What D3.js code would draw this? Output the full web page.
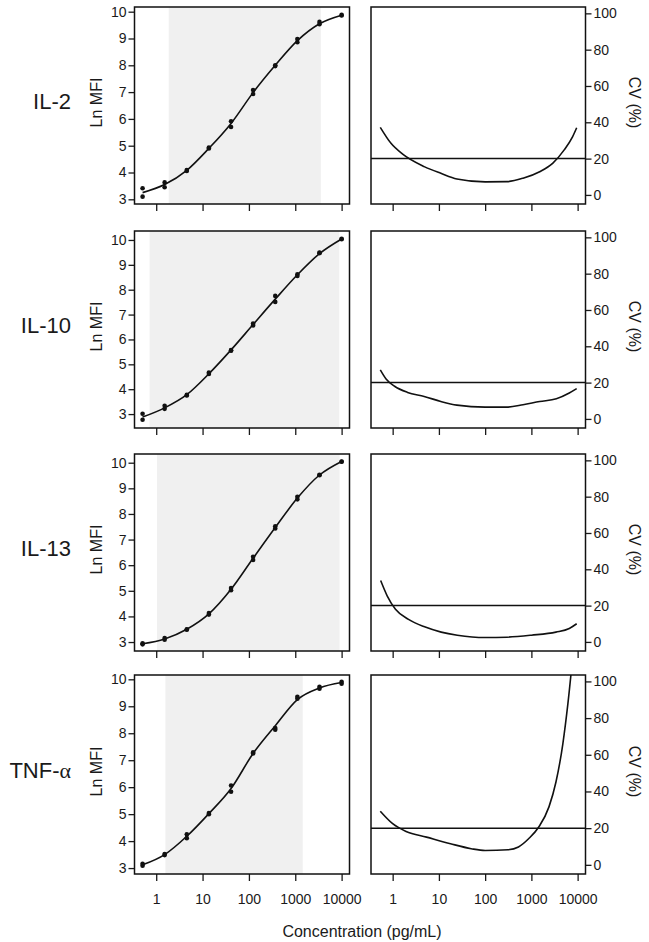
<!DOCTYPE html>
<html>
<head>
<meta charset="utf-8">
<title>Standard curves and CV</title>
<script src="https://d3js.org/d3.v7.min.js"></script>
<style>
body { margin: 0; background: #fff; }
text { font-family: "Liberation Sans", Arial, sans-serif; fill: #1a1a1a; }
.axis text { font-size: 14px; }
.axis line { stroke: #1a1a1a; stroke-width: 1.3; }
</style>
</head>
<body>
<svg width="649" height="942"></svg>
<script>
// standards: 3-fold dilutions from 10000 pg/mL
var conc = [0.508, 1.52, 4.57, 13.7, 41.2, 123, 370, 1111, 3333, 10000];

var analytes = ["IL-2", "IL-10", "IL-13", "TNF-α"];

// Ln MFI, two replicates + fitted curve
var il2Rep1 = [3.41, 3.63, 4.09, 4.93, 5.91, 7.08, 8.00, 8.98, 9.62, 9.88];
var il2Rep2 = [3.10, 3.45, 4.06, 4.90, 5.70, 6.93, 7.97, 8.86, 9.53, 9.86];
var il2Fit  = [3.25, 3.55, 4.08, 4.90, 5.83, 6.98, 8.00, 8.92, 9.55, 9.87];

var il10Rep1 = [3.01, 3.33, 3.77, 4.67, 5.57, 6.64, 7.75, 8.62, 9.49, 10.05];
var il10Rep2 = [2.77, 3.21, 3.75, 4.61, 5.55, 6.56, 7.51, 8.55, 9.47, 10.03];
var il10Fit  = [2.88, 3.25, 3.78, 4.62, 5.58, 6.60, 7.62, 8.60, 9.45, 10.04];

var il13Rep1 = [2.95, 3.16, 3.50, 4.13, 5.11, 6.33, 7.52, 8.67, 9.53, 10.05];
var il13Rep2 = [2.91, 3.09, 3.48, 4.07, 5.02, 6.20, 7.43, 8.57, 9.51, 10.04];
var il13Fit  = [2.93, 3.12, 3.50, 4.10, 5.06, 6.27, 7.47, 8.62, 9.52, 10.05];

var tnfRep1 = [3.16, 3.52, 4.25, 5.04, 6.06, 7.29, 8.19, 9.35, 9.72, 9.91];
var tnfRep2 = [3.09, 3.48, 4.11, 5.00, 5.83, 7.25, 8.13, 9.28, 9.65, 9.84];
var tnfFit  = [3.12, 3.50, 4.18, 5.02, 5.95, 7.25, 8.28, 9.25, 9.68, 9.88];

// working range (shaded), pg/mL
var rangeLow  = [1.86, 0.72, 1.04, 1.58];
var rangeHigh = [3560, 8900, 9060, 1450];

// CV profiles
var il2CvConc = [0.54, 0.92, 1.62, 4.8, 11, 24.5, 100, 290, 660, 1510, 2880, 5130, 7760, 9550];
var il2Cv     = [37.2, 28.4, 22.6, 15.6, 11.9, 8.8, 7.2, 7.3, 9.2, 12.8, 17.4, 24.8, 32, 37];

var il10CvConc = [0.54, 0.72, 1.1, 2.1, 4.8, 11, 24.5, 100, 290, 660, 1510, 3470, 6600, 9550];
var il10Cv     = [27, 22, 18, 14.6, 12.4, 9.6, 7.6, 6.5, 6.5, 7.8, 9.6, 11.1, 14.3, 16.7];

var il13CvConc = [0.55, 0.76, 1.15, 2.2, 4.9, 11.2, 25, 100, 295, 1000, 3390, 6600, 9550];
var il13Cv     = [33.8, 25.4, 18, 12.4, 8.3, 5.4, 3.7, 2.4, 2.6, 3.7, 5.4, 7.4, 10];

var tnfCvConc = [0.54, 1, 1.95, 5.4, 17.8, 50, 100, 316, 525, 870, 1445, 2400, 3390, 4790, 6170, 7940];
var tnfCv     = [29.2, 22.4, 18.2, 15.1, 11.5, 8.8, 7.8, 8.2, 9.7, 14.2, 20.6, 31.6, 45, 66, 88, 115];

var cvLimit = 20;

var xTicks = [1, 10, 100, 1000, 10000];
var lnTicks = [3, 4, 5, 6, 7, 8, 9, 10];
var cvTicks = [0, 20, 40, 60, 80, 100];
var lnDomains = [[2.825, 10.175], [2.44, 10.36], [2.65, 10.34], [2.78, 10.16]];
var cvDomain = [-5, 103.5];
var xDomain = [0.34, 14800];

var reps1 = [il2Rep1, il10Rep1, il13Rep1, tnfRep1];
var reps2 = [il2Rep2, il10Rep2, il13Rep2, tnfRep2];
var fits = [il2Fit, il10Fit, il13Fit, tnfFit];
var cvConcs = [il2CvConc, il10CvConc, il13CvConc, tnfCvConc];
var cvs = [il2Cv, il10Cv, il13Cv, tnfCv];

// layout
var svg = d3.select("svg");
var leftX = [134.5, 349.5], rightX = [371, 585.5];
var rowTop = [7, 231, 454, 675], rowBot = [204, 428, 651, 874];

var xL = d3.scaleLog().domain(xDomain).range(leftX);
var xR = d3.scaleLog().domain(xDomain).range(rightX);

svg.append("defs").selectAll("clipPath")
  .data(rowTop).enter().append("clipPath")
  .attr("id", function(d, i){ return "clipR" + i; })
  .append("rect")
  .attr("x", rightX[0]).attr("y", function(d){ return d; })
  .attr("width", rightX[1] - rightX[0])
  .attr("height", function(d, i){ return rowBot[i] - d; });

analytes.forEach(function(name, i) {
  var top = rowTop[i], bot = rowBot[i], mid = (top + bot) / 2;
  var y = d3.scaleLinear().domain(lnDomains[i]).range([bot, top]);
  var yc = d3.scaleLinear().domain(cvDomain).range([bot, top]);
  var last = i == analytes.length - 1;

  // --- left: standard curve ---
  svg.append("rect")
    .attr("x", xL(rangeLow[i])).attr("y", top)
    .attr("width", xL(rangeHigh[i]) - xL(rangeLow[i]))
    .attr("height", bot - top)
    .style("fill", "#f0f0f0");

  var fitLine = d3.line()
    .x(function(d, j){ return xL(conc[j]); })
    .y(function(d){ return y(d); })
    .curve(d3.curveMonotoneX);
  svg.append("path").datum(fits[i])
    .attr("d", fitLine)
    .style("fill", "none").style("stroke", "#111").style("stroke-width", 1.6);

  [reps1[i], reps2[i]].forEach(function(rep) {
    svg.selectAll(null).data(rep).enter().append("circle")
      .attr("cx", function(d, j){ return xL(conc[j]); })
      .attr("cy", function(d){ return y(d); })
      .attr("r", 2.3)
      .style("fill", "#111");
  });

  svg.append("g").attr("class", "axis")
    .attr("transform", "translate(" + leftX[0] + ",0)")
    .call(d3.axisLeft(y).tickValues(lnTicks).tickSize(6).tickPadding(2))
    .call(function(g){ g.select(".domain").remove(); });

  svg.append("g").attr("class", "axis")
    .attr("transform", "translate(0," + bot + ")")
    .call(d3.axisBottom(xL).tickValues(xTicks).tickSize(7).tickPadding(13)
      .tickFormat(function(d){ return last ? d3.format("d")(d) : ""; }))
    .call(function(g){ g.select(".domain").remove(); });

  svg.append("rect")
    .attr("x", leftX[0]).attr("y", top)
    .attr("width", leftX[1] - leftX[0]).attr("height", bot - top)
    .style("fill", "none").style("stroke", "#111").style("stroke-width", 1.5);

  svg.append("text")
    .attr("transform", "translate(102," + (mid - 3) + ") rotate(-90)")
    .attr("text-anchor", "middle")
    .style("font-size", "16px")
    .text("Ln MFI");

  var lab = svg.append("text")
    .attr("x", 71).attr("y", mid + 3)
    .attr("text-anchor", "end")
    .style("font-size", "22px");
  if (name.indexOf("α") >= 0) {
    lab.append("tspan").text(name.replace("α", ""));
    lab.append("tspan").style("font-family", "'Liberation Serif', serif").text("α");
  } else {
    lab.text(name);
  }

  // --- right: CV profile ---
  var cvLine = d3.line()
    .x(function(d, j){ return xR(cvConcs[i][j]); })
    .y(function(d){ return yc(d); })
    .curve(d3.curveMonotoneX);
  svg.append("path").datum(cvs[i])
    .attr("d", cvLine)
    .attr("clip-path", "url(#clipR" + i + ")")
    .style("fill", "none").style("stroke", "#111").style("stroke-width", 1.6);

  svg.append("line")
    .attr("x1", rightX[0]).attr("x2", rightX[1])
    .attr("y1", yc(cvLimit)).attr("y2", yc(cvLimit))
    .style("stroke", "#111").style("stroke-width", 1.5);

  svg.append("g").attr("class", "axis")
    .attr("transform", "translate(" + rightX[1] + ",0)")
    .call(d3.axisRight(yc).tickValues(cvTicks).tickSize(6).tickPadding(2))
    .call(function(g){ g.select(".domain").remove(); });

  svg.append("g").attr("class", "axis")
    .attr("transform", "translate(0," + bot + ")")
    .call(d3.axisBottom(xR).tickValues(xTicks).tickSize(7).tickPadding(13)
      .tickFormat(function(d){ return last ? d3.format("d")(d) : ""; }))
    .call(function(g){ g.select(".domain").remove(); });

  svg.append("rect")
    .attr("x", rightX[0]).attr("y", top)
    .attr("width", rightX[1] - rightX[0]).attr("height", bot - top)
    .style("fill", "none").style("stroke", "#111").style("stroke-width", 1.5);

  svg.append("text")
    .attr("transform", "translate(629," + (mid - 3) + ") rotate(90)")
    .attr("text-anchor", "middle")
    .style("font-size", "16px")
    .text("CV (%)");
});

svg.append("text")
  .attr("x", 362).attr("y", 937)
  .attr("text-anchor", "middle")
  .style("font-size", "16px")
  .text("Concentration (pg/mL)");
</script>
</body>
</html>
